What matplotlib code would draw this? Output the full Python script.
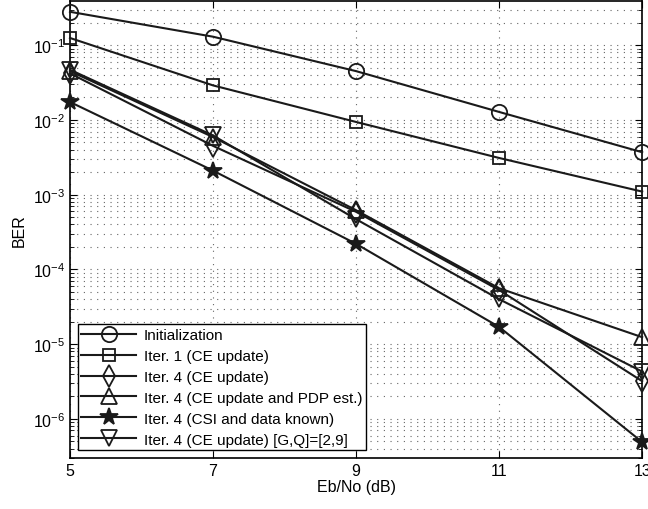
import matplotlib
matplotlib.use("Agg")
import matplotlib.pyplot as plt
from matplotlib.ticker import LogLocator, NullFormatter

plt.rcParams["font.family"] = ["Liberation Sans", "DejaVu Sans"]
plt.rcParams["font.size"] = 11

ebno = [5, 7, 9, 11, 13]

ber_init = [0.28, 0.13, 0.045, 0.0128, 0.0037]
ber_iter1 = [0.125, 0.029, 0.0094, 0.0031, 0.0011]
ber_iter4 = [0.042, 0.0045, 5.9e-4, 5.3e-5, 3.2e-6]
ber_iter4_pdp = [0.045, 0.0059, 6.2e-4, 5.6e-5, 1.24e-5]
ber_iter4_known = [0.0174, 0.0021, 2.2e-4, 1.7e-5, 4.9e-7]
ber_iter4_gq = [0.047, 0.0062, 4.7e-4, 4.0e-5, 4.3e-6]

labels = ["Initialization",
          "Iter. 1 (CE update)",
          "Iter. 4 (CE update)",
          "Iter. 4 (CE update and PDP est.)",
          "Iter. 4 (CSI and data known)",
          "Iter. 4 (CE update) [G,Q]=[2,9]"]

fig = plt.figure(figsize=(6.48, 5.10), dpi=100)
ax = fig.add_axes([0.108, 0.1, 0.883, 0.896])

series = [ber_init, ber_iter1, ber_iter4, ber_iter4_pdp, ber_iter4_known, ber_iter4_gq]
markers = ["o", "s", "d", "^", "*", "v"]
sizes = [11, 9, 11, 11, 13, 11]
for ys, m, ms, lab in zip(series, markers, sizes, labels):
    ax.semilogy(ebno, ys, color="#1a1a1a", lw=1.5, marker=m, ms=ms,
                mfc="none" if m != "*" else "#1a1a1a", mec="#1a1a1a", mew=1.3,
                label=lab, clip_on=False, zorder=3)

ax.set_xlim(5, 13)
ax.set_ylim(3e-7, 0.39)
ax.set_xticks(ebno)
ax.yaxis.set_major_locator(LogLocator(base=10, numticks=20))
ax.yaxis.set_minor_locator(LogLocator(base=10, subs=range(2, 10), numticks=20))
ax.yaxis.set_minor_formatter(NullFormatter())
ax.tick_params(which="both", direction="in", top=True, right=True, labelsize=11.5)
ax.tick_params(which="major", length=5)
ax.tick_params(which="minor", length=3)
ax.grid(True, which="major", ls=(0, (1, 5)), color="#666666", lw=0.8)
ax.grid(True, which="minor", axis="y", ls=(0, (1, 5)), color="#666666", lw=0.8)
for s in ax.spines.values():
    s.set_linewidth(1.2)

ax.set_xlabel("Eb/No (dB)", fontsize=11.5, labelpad=1)
ax.set_ylabel("BER", fontsize=11.5, labelpad=4)

leg = ax.legend(loc="lower left", fontsize=11, fancybox=False, framealpha=1,
                edgecolor="black", handlelength=3.6, borderpad=0.25,
                labelspacing=0.45, handletextpad=0.5, borderaxespad=0.5)
leg.get_frame().set_linewidth(1.0)

fig.savefig("out.png", dpi=100)
